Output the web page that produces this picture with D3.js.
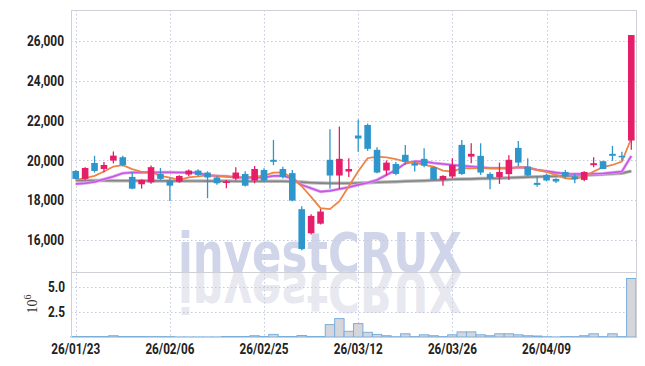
<!DOCTYPE html>
<html>
<head>
<meta charset="utf-8">
<script src="https://cdn.jsdelivr.net/npm/d3@7/dist/d3.min.js"></script>
<style>
  body { margin: 0; background: #fff; }
  svg { display: block; }
  .axisTxt text { font-family: Roboto, "DejaVu Sans", sans-serif; font-weight: bold; font-size: 14.5px; fill: #222; }
</style>
</head>
<body>
<div id="chart_div"></div>
<script>
/********
 * Data *
 ********/

var gvDates = ['26/01/23','26/01/26','26/01/27','26/01/28','26/01/29','26/01/30',
  '26/02/02','26/02/03','26/02/04','26/02/05','26/02/06','26/02/09','26/02/10',
  '26/02/11','26/02/12','26/02/13','26/02/19','26/02/20','26/02/23','26/02/24',
  '26/02/25','26/02/26','26/02/27','26/03/03','26/03/04','26/03/05','26/03/06',
  '26/03/09','26/03/10','26/03/11','26/03/12','26/03/13','26/03/16','26/03/17',
  '26/03/18','26/03/19','26/03/20','26/03/23','26/03/24','26/03/25','26/03/26',
  '26/03/27','26/03/30','26/03/31','26/04/01','26/04/02','26/04/03','26/04/06',
  '26/04/07','26/04/08','26/04/09','26/04/10','26/04/13','26/04/14','26/04/15',
  '26/04/16','26/04/17','26/04/20','26/04/21','26/04/22'];

var gvOpen = [19470,19070,19870,19570,19990,20160,19170,18800,18900,19320,
  18980,18930,19290,19490,19390,19140,18870,19090,19320,18990,
  19520,20030,19570,19360,17550,16340,16820,20030,19240,19440,
  21250,21780,20530,19490,19820,20280,19860,20080,19660,19020,
  19190,20780,20190,20230,19320,19160,19310,20630,19690,18870,
  19270,19070,19420,19190,19020,19760,19960,20330,20230,21000];

var gvHigh = [19500,19650,20230,19920,20450,20230,19420,19050,19750,19620,
  19100,19250,19540,19560,19450,19200,19020,19660,19460,19720,
  19600,21030,19680,19520,17700,17300,17560,21570,21700,20110,
  22050,21850,20660,20000,19920,20780,19950,20610,19700,19250,
  20110,21030,20860,20860,19400,19890,20260,20980,20110,19190,
  19340,19100,19520,19340,19450,20160,19980,20730,20430,26300];

var gvLow = [19050,19020,19390,19400,19850,19700,18550,18580,18830,19000,
  17960,18880,19200,19200,18100,18780,18600,19000,18690,18850,
  18900,19760,19090,17950,15480,16280,16780,18570,18570,19160,
  20440,20480,19350,19240,19250,19770,19440,19650,18990,18720,
  19100,19270,19860,19270,18550,18820,19020,19720,19190,18680,
  18950,18870,19100,18850,18950,19660,19560,19975,19990,20530];

var gvClose = [19070,19620,19470,19770,20240,19770,18580,19020,19660,19070,
  18730,19220,19490,19270,19140,18850,18940,19390,18730,19570,
  18990,19930,19170,17980,15550,17210,17430,19240,20080,19570,
  21100,20580,19390,19890,19320,19940,19740,19740,19020,19220,
  19770,19320,20330,19390,19100,19420,20030,19890,19240,18770,
  18990,18940,19190,19070,19420,19860,19570,20230,20190,26300];

// volume, millions
var gvVolume = [0.05,0.05,0.05,0.05,0.13,0.05,0.05,0.05,0.04,0.04,
  0.04,0.01,0.01,0.01,0.01,0.01,0.05,0.05,0.05,0.13,
  0.05,0.26,0.05,0.05,0.15,0.05,0.05,1.24,1.84,0.57,
  1.34,0.47,0.26,0.13,0.03,0.32,0.04,0.22,0.13,0.04,
  0.22,0.51,0.51,0.22,0.13,0.32,0.32,0.22,0.13,0.10,
  0.03,0.01,0.04,0.04,0.13,0.32,0.04,0.32,0.04,5.85];

var gvMaShort = [19020,19105,19220,19440,19690,19760,19560,19420,19420,19220,
  19140,19020,19150,19200,19250,19230,19170,19150,19130,19180,
  19240,19390,19400,19120,18700,18170,17600,17550,17950,18700,
  19450,20110,20190,20150,20060,19940,19890,19770,19690,19490,
  19440,19610,19600,19610,19610,19600,19600,19660,19630,19520,
  19420,19270,19100,19055,19190,19440,19660,19770,19940,21100];

var gvMaMid = [18820,18855,18920,19055,19190,19357,19390,19390,19390,19400,
  19400,19390,19390,19380,19250,19220,19200,19150,19136,19136,
  19140,19220,19220,19100,18770,18600,18430,18470,18560,18650,
  18770,18880,19020,19270,19520,19850,19950,19940,19870,19820,
  19770,19730,19690,19650,19610,19610,19608,19658,19640,19523,
  19460,19387,19330,19320,19322,19330,19340,19387,19437,20226];

var gvMaLong = [18990,18990,18985,18985,18980,18980,18975,18975,18970,18970,
  18970,18965,18965,18965,18960,18960,18960,18955,18955,18955,
  18950,18950,18950,18940,18910,18880,18860,18850,18850,18855,
  18865,18880,18900,18915,18930,18950,18965,18980,19000,19020,
  19050,19060,19070,19085,19095,19105,19130,19145,19160,19175,
  19190,19205,19220,19235,19255,19275,19300,19330,19360,19460];

var gvPriceTicks = [16000, 18000, 20000, 22000, 24000, 26000];
var gvVolumeTicks = [2.5, 5.0];
var gvDateTicks = ['26/01/23','26/02/06','26/02/25','26/03/12','26/03/26','26/04/09'];

/*********
 * Setup *
 *********/

var gvWidth = 645;
var gvHeight = 366;
var gvLeft = 71;
var gvRight = 636;
var gvTop = 10;
var gvSplit = 272;
var gvBottom = 337;

var gvColours = {
  up: '#e61e6a',
  down: '#2f96cb',
  grid: '#c3c8dc',
  frame: '#cfd0d6',
  maShort: '#ee8346',
  maMid: '#c857e3',
  maLong: '#858585'
};

/*
 * squeeze tick labels to the narrow look of the original
 */
function squeeze(pvSel, pvWidth) {
  pvSel.selectAll('text')
    .attr('textLength', pvWidth)
    .attr('lengthAdjust', 'spacingAndGlyphs');
}

/*
 * Build the chart
 */
function buildChart() {

  var svg = d3.select('#chart_div').append('svg')
    .attr('width', gvWidth)
    .attr('height', gvHeight);

  var x = d3.scaleBand().domain(gvDates).range([gvLeft, gvRight]).padding(0);
  var y = d3.scaleLinear().domain([14392, 27558]).range([gvSplit, gvTop]);
  var yVol = d3.scaleLinear().domain([0, 6.5]).range([gvBottom, gvSplit]);
  var bw = x.bandwidth();
  var cx = function(i) { return x(gvDates[i]) + bw / 2; };

  // watermark plus its reflection
  var wm = svg.append('g');
  wm.append('text')
    .attr('x', 178).attr('y', 272)
    .attr('textLength', 284).attr('lengthAdjust', 'spacingAndGlyphs')
    .style('font-family', '"DejaVu Sans", sans-serif')
    .style('font-weight', 'bold').style('font-size', '55px')
    .style('fill', '#d1d5e9')
    .text('investCRUX');
  wm.append('text')
    .attr('x', 178).attr('y', -273)
    .attr('transform', 'scale(1,-1)')
    .attr('textLength', 284).attr('lengthAdjust', 'spacingAndGlyphs')
    .style('font-family', '"DejaVu Sans", sans-serif')
    .style('font-weight', 'bold').style('font-size', '55px')
    .style('fill', '#e8e8f0')
    .text('investCRUX');

  // grid lines
  var grid = svg.append('g')
    .attr('stroke', gvColours.grid)
    .attr('stroke-dasharray', '1.5,2.5')
    .attr('stroke-width', 1);

  grid.selectAll('.hg').data(gvPriceTicks).enter().append('line')
    .attr('x1', gvLeft).attr('x2', gvRight)
    .attr('y1', function(d) { return Math.round(y(d)) + 0.5; })
    .attr('y2', function(d) { return Math.round(y(d)) + 0.5; });

  grid.selectAll('.vg').data(gvVolumeTicks).enter().append('line')
    .attr('x1', gvLeft).attr('x2', gvRight)
    .attr('y1', function(d) { return Math.round(yVol(d)) + 0.5; })
    .attr('y2', function(d) { return Math.round(yVol(d)) + 0.5; });

  grid.selectAll('.xg').data(gvDateTicks).enter().append('line')
    .attr('x1', function(d) { return Math.round(x(d) + bw / 2) + 0.5; })
    .attr('x2', function(d) { return Math.round(x(d) + bw / 2) + 0.5; })
    .attr('y1', gvTop).attr('y2', gvBottom);

  // volume bars
  svg.append('g').selectAll('rect').data(gvVolume).enter().append('rect')
    .attr('x', function(d, i) { return x(gvDates[i]); })
    .attr('width', bw)
    .attr('y', function(d) { return yVol(d); })
    .attr('height', function(d) { return gvBottom - yVol(d); })
    .attr('fill', '#d5d5dc')
    .attr('stroke', '#7aaedb')
    .attr('stroke-width', 1);

  // moving averages
  var idx = d3.range(gvDates.length);
  function maLine(arr) {
    return d3.line().x(function(i) { return cx(i); }).y(function(i) { return y(arr[i]); })(idx);
  }
  svg.append('path').attr('d', maLine(gvMaLong)).attr('fill', 'none')
    .attr('stroke', '#bcbcbc').attr('stroke-width', 3.5);
  svg.append('path').attr('d', maLine(gvMaLong)).attr('fill', 'none')
    .attr('stroke', gvColours.maLong).attr('stroke-width', 1.6);
  svg.append('path').attr('d', maLine(gvMaMid)).attr('fill', 'none')
    .attr('stroke', '#e2a8f0').attr('stroke-width', 3);
  svg.append('path').attr('d', maLine(gvMaMid)).attr('fill', 'none')
    .attr('stroke', gvColours.maMid).attr('stroke-width', 1.6);
  svg.append('path').attr('d', maLine(gvMaShort)).attr('fill', 'none')
    .attr('stroke', gvColours.maShort).attr('stroke-width', 1.8);

  // candles
  var cw = bw * 0.7;
  var candles = svg.append('g').selectAll('g').data(idx).enter().append('g');
  candles.append('line')
    .attr('x1', function(i) { return cx(i); })
    .attr('x2', function(i) { return cx(i); })
    .attr('y1', function(i) { return y(gvHigh[i]); })
    .attr('y2', function(i) { return y(gvLow[i]); })
    .attr('stroke', function(i) { return gvClose[i] >= gvOpen[i] ? gvColours.up : gvColours.down; })
    .attr('stroke-width', 1.3);
  candles.append('rect')
    .attr('x', function(i) { return cx(i) - cw / 2; })
    .attr('width', cw)
    .attr('y', function(i) { return y(Math.max(gvOpen[i], gvClose[i])); })
    .attr('height', function(i) { return Math.max(1.5, Math.abs(y(gvOpen[i]) - y(gvClose[i]))); })
    .attr('fill', function(i) { return gvClose[i] >= gvOpen[i] ? gvColours.up : gvColours.down; });

  // frame
  var frame = svg.append('g').attr('stroke', gvColours.frame).attr('fill', 'none');
  frame.append('rect').attr('x', gvLeft + 0.5).attr('y', gvTop + 0.5)
    .attr('width', gvRight - gvLeft).attr('height', gvBottom - gvTop);
  frame.append('line').attr('x1', gvLeft).attr('x2', gvRight)
    .attr('y1', gvSplit + 0.5).attr('y2', gvSplit + 0.5);

  // axes
  var yAxis = d3.axisLeft(y).tickValues(gvPriceTicks).tickSize(0).tickPadding(7)
    .tickFormat(d3.format(','));
  svg.append('g').attr('class', 'axisTxt')
    .attr('transform', 'translate(' + gvLeft + ',0)')
    .call(yAxis)
    .call(function(g) { g.select('.domain').remove(); })
    .call(squeeze, 37);

  var vAxis = d3.axisLeft(yVol).tickValues(gvVolumeTicks).tickSize(0).tickPadding(6)
    .tickFormat(d3.format('.1f'));
  svg.append('g').attr('class', 'axisTxt')
    .attr('transform', 'translate(' + gvLeft + ',0)')
    .call(vAxis)
    .call(function(g) { g.select('.domain').remove(); })
    .call(squeeze, 17);

  var xAxis = d3.axisBottom(x).tickValues(gvDateTicks).tickSize(0).tickPadding(7);
  svg.append('g').attr('class', 'axisTxt')
    .attr('transform', 'translate(0,' + gvBottom + ')')
    .call(xAxis)
    .call(function(g) { g.select('.domain').remove(); })
    .call(squeeze, 49);

  // 10^6 label
  var unit = svg.append('text')
    .attr('transform', 'translate(37,304) rotate(-90)')
    .attr('text-anchor', 'middle')
    .style('font-family', '"Liberation Serif", serif')
    .style('font-size', '14px')
    .style('fill', '#333');
  unit.append('tspan').text('10');
  unit.append('tspan').attr('dy', -6).style('font-size', '10px').text('6');
}

buildChart();
</script>
</body>
</html>
